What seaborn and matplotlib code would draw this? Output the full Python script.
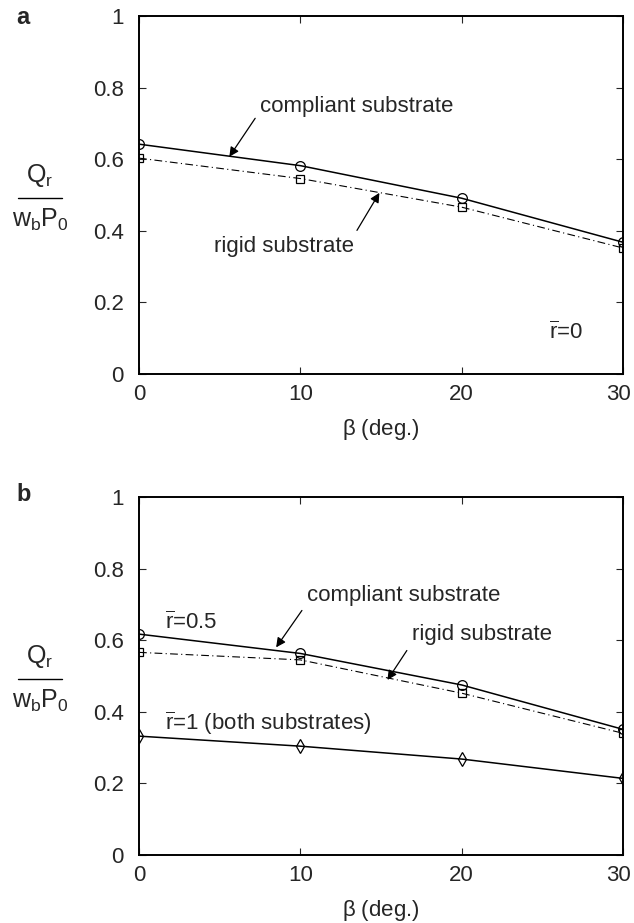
import numpy as np
import pandas as pd
import seaborn as sns
import matplotlib.pyplot as plt
import matplotlib.transforms as mtransforms
from matplotlib.lines import Line2D

# values
beta = [0, 10, 20, 30]
a_compliant = [0.642, 0.582, 0.491, 0.368]
a_rigid = [0.603, 0.546, 0.466, 0.352]
b_compliant = [0.617, 0.563, 0.475, 0.351]
b_rigid = [0.566, 0.545, 0.452, 0.340]
b_both = [0.332, 0.304, 0.268, 0.214]

y_ticks = [0, 0.2, 0.4, 0.6, 0.8, 1]
y_ticklabels = ["0", "0.2", "0.4", "0.6", "0.8", "1"]
x_ticks = [0, 10, 20, 30]

sns.set_style("ticks")
plt.rcParams['font.family'] = ['Liberation Sans', 'DejaVu Sans']
plt.rcParams['mathtext.fontset'] = 'custom'
plt.rcParams['mathtext.rm'] = 'Liberation Sans'
plt.rcParams['mathtext.it'] = 'Liberation Sans'
plt.rcParams['font.size'] = 16

W, H = 634, 923
FS = 16
fig = plt.figure(figsize=(W / 100, H / 100), dpi=100)


def make_axes(top_px):
    left, right, height = 139, 623, 358
    return fig.add_axes([left / W, 1 - (top_px + height) / H,
                         (right - left) / W, height / H])


def style_axes(ax, top_px):
    ax.set_xlim(0, 30)
    ax.set_ylim(0, 1)
    ax.set_xticks(x_ticks)
    ax.set_xticklabels([str(v) for v in x_ticks])
    ax.set_yticks(y_ticks)
    ax.set_yticklabels(y_ticklabels)
    ax.tick_params(direction='in', top=True, right=True, length=5,
                   width=0.8, labelsize=FS)
    ax.tick_params(axis='x', pad=7)
    ax.tick_params(axis='y', pad=11)
    # keep the last x tick label inside the figure
    last = ax.get_xticklabels()[-1]
    last.set_transform(last.get_transform() + mtransforms.ScaledTranslation(
        -5 / 100, 0, fig.dpi_scale_trans))
    for s in ax.spines.values():
        s.set_linewidth(1.4)
        s.set_color('k')
    ax.set_xlabel(r"$\beta$ (deg.)", fontsize=FS, labelpad=9)
    ax.set_ylabel("")
    # y label drawn as a stacked fraction Q_r / (w_b P_0)
    fig.text(40 / W, 1 - (top_px + 166) / H, r"Q$_\mathrm{r}$", fontsize=18,
             ha='center', va='baseline')
    fig.text(40 / W, 1 - (top_px + 211) / H,
             r"w$_\mathrm{b}$P$_\mathrm{0}$", fontsize=18,
             ha='center', va='baseline')
    fig.add_artist(Line2D([18 / W, 62 / W], [1 - (top_px + 182) / H] * 2,
                          transform=fig.transFigure, color='k', lw=1.0))


def draw(ax, vals, marker, ls, lw, ms):
    sns.lineplot(x=beta, y=vals, ax=ax, color='k', marker=marker,
                 markerfacecolor='none', markeredgecolor='k',
                 markeredgewidth=0.9, markersize=ms, linewidth=lw,
                 linestyle=ls)


def arrow(relpos):
    return dict(arrowstyle='-|>', color='k', lw=0.9, mutation_scale=14,
                relpos=relpos, shrinkA=2, shrinkB=0)


dashdot = (0, (7, 3, 1, 3))

# panel a
ax1 = make_axes(16)
draw(ax1, a_compliant, 'o', '-', 1.1, 7)
draw(ax1, a_rigid, 's', dashdot, 0.8, 5.5)
style_axes(ax1, 16)
ax1.annotate("compliant substrate", xy=(5.6, 0.607), xytext=(7.5, 0.746),
             ha='left', va='center', fontsize=FS, arrowprops=arrow((0, 0.3)))
ax1.annotate("rigid substrate", xy=(14.9, 0.506), xytext=(13.3, 0.356),
             ha='right', va='center', fontsize=FS, arrowprops=arrow((1, 1)))
ax1.text(25.4, 0.114, r"$\overline{\mathrm{r}}$=0", ha='left', va='center',
         fontsize=FS)

# panel b
ax2 = make_axes(497)
draw(ax2, b_compliant, 'o', '-', 1.1, 7)
draw(ax2, b_rigid, 's', dashdot, 0.8, 5.5)
draw(ax2, b_both, 'd', '-', 1.1, 7)
style_axes(ax2, 497)
ax2.annotate("compliant substrate", xy=(8.5, 0.580), xytext=(10.4, 0.726),
             ha='left', va='center', fontsize=FS, arrowprops=arrow((0, 0.1)))
ax2.annotate("rigid substrate", xy=(15.4, 0.489), xytext=(16.9, 0.615),
             ha='left', va='center', fontsize=FS, arrowprops=arrow((0, 0.1)))
ax2.text(1.6, 0.649, r"$\overline{\mathrm{r}}$=0.5", ha='left', va='center',
         fontsize=FS)
ax2.text(1.6, 0.368, r"$\overline{\mathrm{r}}$=1 (both substrates)",
         ha='left', va='center', fontsize=FS)

fig.text(16 / W, 1 - 17 / H, "a", fontsize=17, fontweight='bold',
         ha='left', va='center')
fig.text(16 / W, 1 - 495 / H, "b", fontsize=17, fontweight='bold',
         ha='left', va='center')

fig.savefig("out.png", dpi=100)
